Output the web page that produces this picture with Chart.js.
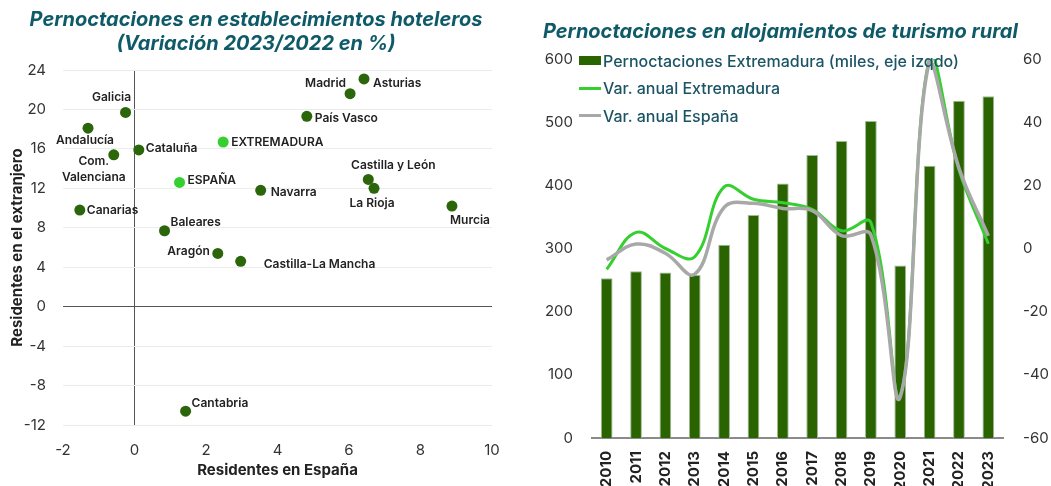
<!DOCTYPE html>
<html>
<head>
<meta charset="utf-8">
<script src="https://cdn.jsdelivr.net/npm/chart.js@4.4.1/dist/chart.umd.min.js"></script>
<style>
  html, body { margin: 0; padding: 0; background: #fff; }
  #wrap { position: relative; width: 1051px; height: 486px; overflow: hidden; font-family: Inter, sans-serif; }
  #left { position: absolute; left: 0; top: 0; width: 520px; height: 486px; }
  #right { position: absolute; left: 530px; top: 0; width: 521px; height: 486px; }
  #legend { position: absolute; left: 579px; top: 47px; margin: 0; padding: 0; list-style: none; }
  #legend li { display: flex; align-items: center; height: 27.5px; font: 500 16px Inter, sans-serif; color: #1b5465; white-space: nowrap; }
  #legend .mk { display: inline-block; width: 22px; margin-right: 2px; }
</style>
</head>
<body>
<div id="wrap">
  <div id="left"><canvas id="scatterChart"></canvas></div>
  <div id="right"><canvas id="ruralChart"></canvas></div>
  <ul id="legend"></ul>
</div>
<script>
// --- datos: variación 2023/2022 (%) por comunidad ---
const regions = ['Galicia', 'Andalucía', ['Com.', 'Valenciana'], 'Cataluña', 'Canarias', 'Baleares',
  'Aragón', 'Castilla-La Mancha', 'Cantabria', 'EXTREMADURA', 'ESPAÑA', 'Navarra',
  'Madrid', 'Asturias', 'País Vasco', 'Castilla y León', 'La Rioja', 'Murcia'];
const residentesEspana = [-0.25, -1.30, -0.58, 0.12, -1.53, 0.84, 2.33, 2.97, 1.43, 2.48, 1.26, 3.53, 6.03, 6.42, 4.82, 6.54, 6.70, 8.88];
const residentesExtranjero = [19.7, 18.1, 15.4, 15.9, 9.8, 7.7, 5.4, 4.6, -10.6, 16.7, 12.6, 11.8, 21.6, 23.1, 19.3, 12.9, 12.0, 10.2];
const highlighted = ['EXTREMADURA', 'ESPAÑA'];

// --- datos: turismo rural ---
const years = ['2010', '2011', '2012', '2013', '2014', '2015', '2016', '2017', '2018', '2019', '2020', '2021', '2022', '2023'];
const pernoctacionesExt = [253, 264, 262, 258, 306, 353, 403, 448, 470, 502, 273, 431, 534, 541];
const varExtremadura = [-6.6, 5.1, 0.0, -2.6, 19.5, 15.6, 14.5, 12.4, 5.6, 8.2, -46.5, 60.3, 24.9, 1.5];
const varEspana = [-3.6, 1.4, -1.5, -8.1, 13.0, 14.3, 12.7, 12.0, 4.1, 4.3, -47.0, 59.5, 25.5, 4.0];

// posición de cada etiqueta respecto a su punto
const labelOffsets = [
  { dx: -14, dy: -15, align: 'center' }, { dx: -3, dy: 12, align: 'center' },
  { dx: -20, dy: 7, align: 'center' },   { dx: 7, dy: -1, align: 'left' },
  { dx: 7, dy: 0, align: 'left' },       { dx: 6, dy: -8, align: 'left' },
  { dx: -8, dy: -2, align: 'right' },    { dx: 23, dy: 3, align: 'left' },
  { dx: 6, dy: -8, align: 'left' },      { dx: 8, dy: 0, align: 'left' },
  { dx: 8, dy: -2, align: 'left' },      { dx: 10, dy: 2, align: 'left' },
  { dx: -4, dy: -10, align: 'right' },   { dx: 9, dy: 5, align: 'left' },
  { dx: 8, dy: 2, align: 'left' },       { dx: 25, dy: -14, align: 'center' },
  { dx: -2, dy: 15, align: 'center' },   { dx: 18, dy: 14, align: 'center' }
];

const FONT = 'Inter, sans-serif';
const TITLE_COLOR = '#0e5a69';
const DARK_GREEN = '#2b660b';
const LIGHT_GREEN = '#35cf2f';

const pointLabels = {
  id: 'pointLabels',
  afterDatasetsDraw(chart) {
    const ctx = chart.ctx;
    const meta = chart.getDatasetMeta(0);
    ctx.save();
    ctx.font = '600 12px ' + FONT;
    ctx.fillStyle = '#222';
    ctx.textBaseline = 'middle';
    meta.data.forEach((pt, i) => {
      const o = labelOffsets[i];
      const lines = [].concat(regions[i]);
      ctx.textAlign = o.align;
      lines.forEach((t, k) => ctx.fillText(t, pt.x + o.dx, pt.y + o.dy + k * 16));
    });
    ctx.restore();
  }
};

new Chart(document.getElementById('scatterChart'), {
  type: 'scatter',
  data: {
    datasets: [{
      data: residentesEspana.map((x, i) => ({ x, y: residentesExtranjero[i] })),
      pointRadius: 5.5,
      pointHoverRadius: 5.5,
      pointBorderWidth: 0,
      pointBackgroundColor: c => highlighted.includes(regions[c.dataIndex]) ? LIGHT_GREEN : DARK_GREEN
    }]
  },
  options: {
    responsive: true,
    maintainAspectRatio: false,
    animation: false,
    layout: { padding: { left: 0, right: 8, top: 0, bottom: 0 } },
    plugins: {
      legend: { display: false },
      tooltip: { enabled: false },
      title: {
        display: true,
        text: ['Pernoctaciones en establecimientos hoteleros', '(Variación 2023/2022 en %)'],
        color: TITLE_COLOR,
        font: { family: FONT, size: 20, weight: 'bold', style: 'italic', lineHeight: 1.2 },
        padding: { top: 8, bottom: 14 }
      }
    },
    scales: {
      x: {
        type: 'linear', min: -2, max: 10,
        afterFit: s => { s.height = 61; s.paddingRight = 28; },
        ticks: { stepSize: 2, color: '#333', font: { family: FONT, size: 15 }, padding: 16 },
        grid: { drawTicks: false, color: c => (c.tick && c.tick.value === 0) ? '#555' : 'rgba(0,0,0,0)' },
        border: { display: false },
        title: { display: true, text: 'Residentes en España', color: '#222', font: { family: FONT, size: 15, weight: 'bold' }, padding: { bottom: 7 } }
      },
      y: {
        min: -12, max: 24,
        afterFit: s => { s.width = 63; },
        ticks: { stepSize: 4, color: '#333', font: { family: FONT, size: 15 }, padding: 17 },
        grid: { drawTicks: false, color: c => (c.tick && c.tick.value === 0) ? '#555' : '#ececec' },
        border: { display: false },
        title: { display: true, text: 'Residentes en el extranjero', color: '#222', font: { family: FONT, size: 15, weight: 'bold' }, padding: { top: 8 } }
      }
    }
  },
  plugins: [pointLabels]
});

// leyenda html dentro del área del gráfico
const htmlLegend = {
  id: 'htmlLegend',
  afterUpdate(chart) {
    const ul = document.getElementById('legend');
    ul.innerHTML = '';
    chart.data.datasets.forEach(ds => {
      const li = document.createElement('li');
      const mk = document.createElement('span');
      mk.className = 'mk';
      if (ds.type === 'bar') {
        mk.style.height = '9px';
        mk.style.background = ds.backgroundColor;
      } else {
        mk.style.height = '3px';
        mk.style.background = ds.borderColor;
      }
      li.appendChild(mk);
      li.appendChild(document.createTextNode(ds.label));
      ul.appendChild(li);
    });
  }
};

new Chart(document.getElementById('ruralChart'), {
  data: {
    labels: years,
    datasets: [
      {
        type: 'bar', label: 'Pernoctaciones Extremadura (miles, eje izqdo)',
        data: pernoctacionesExt, yAxisID: 'y', order: 3,
        backgroundColor: '#2a6400', borderColor: '#a3b895', borderWidth: 1, borderSkipped: 'bottom',
        categoryPercentage: 1, barPercentage: 0.4
      },
      {
        type: 'line', label: 'Var. anual Extremadura',
        data: varExtremadura, yAxisID: 'y1', order: 2,
        borderColor: LIGHT_GREEN, borderWidth: 3, pointRadius: 0, tension: 0.4, fill: false
      },
      {
        type: 'line', label: 'Var. anual España',
        data: varEspana, yAxisID: 'y1', order: 1,
        borderColor: '#a8a8a8', borderWidth: 3.5, pointRadius: 0, tension: 0.4, fill: false
      }
    ]
  },
  options: {
    responsive: true,
    maintainAspectRatio: false,
    animation: false,
    layout: { padding: { left: 13, right: 0, top: 0, bottom: 0 } },
    plugins: {
      legend: { display: false },
      tooltip: { enabled: false },
      title: {
        display: true, align: 'start',
        text: 'Pernoctaciones en alojamientos de turismo rural',
        color: TITLE_COLOR,
        font: { family: FONT, size: 20, weight: 'bold', style: 'italic', lineHeight: 1.2 },
        padding: { top: 20, bottom: 15 }
      }
    },
    scales: {
      x: {
        afterFit: s => { s.height = 48; },
        ticks: { autoSkip: false, minRotation: 90, maxRotation: 90, color: '#222', font: { family: FONT, size: 15, weight: 'bold' }, padding: 13 },
        grid: { display: false, drawTicks: false },
        border: { color: '#8a8a8a', width: 2 }
      },
      y: {
        position: 'left', min: 0, max: 600,
        afterFit: s => { s.width = 49; },
        ticks: { stepSize: 100, color: '#333', font: { family: FONT, size: 15 }, padding: 19 },
        grid: { display: false, drawTicks: false },
        border: { display: false }
      },
      y1: {
        position: 'right', min: -60, max: 60,
        afterFit: s => { s.width = 48; },
        ticks: { stepSize: 20, color: '#333', font: { family: FONT, size: 15 }, padding: 20 },
        grid: { display: false, drawTicks: false },
        border: { display: false }
      }
    }
  },
  plugins: [htmlLegend]
});
</script>
</body>
</html>
